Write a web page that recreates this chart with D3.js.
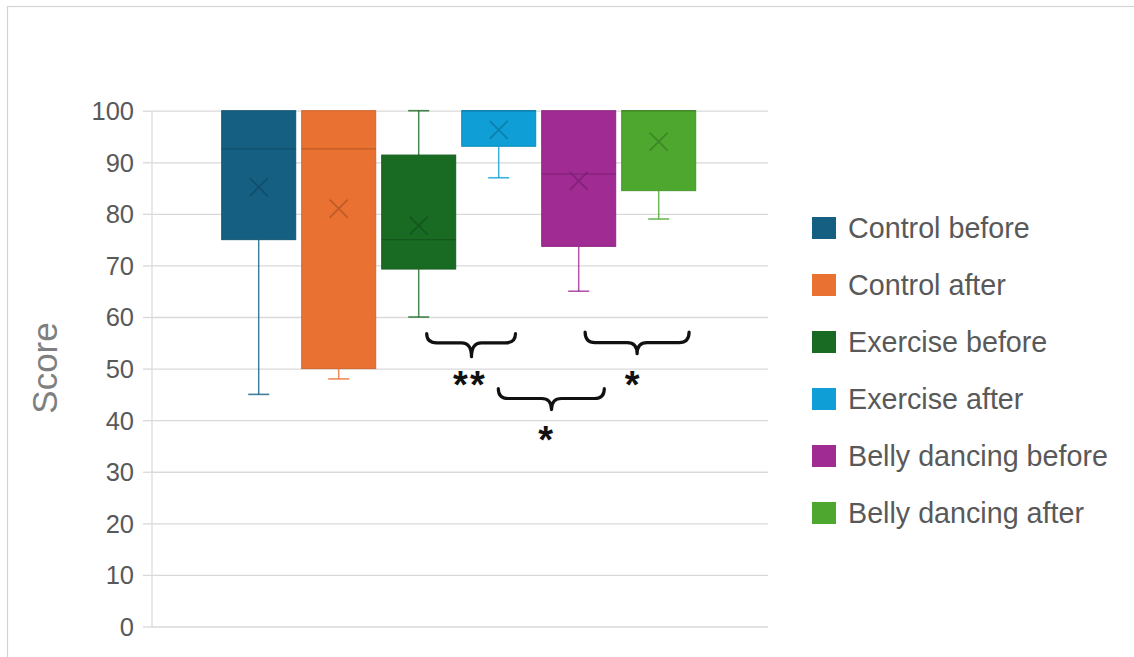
<!DOCTYPE html>
<html><head><meta charset="utf-8">
<script src="https://cdn.jsdelivr.net/npm/d3@7"></script>
<style>body{margin:0;background:#fff;}svg{display:block;font-family:"Liberation Sans",Arial,sans-serif;}</style>
</head><body><svg id="c" width="1134" height="657"></svg>
<script>
// ---- data ----
const seriesNames = ["Control before","Control after","Exercise before","Exercise after","Belly dancing before","Belly dancing after"];
const seriesColors = ["#156082","#E97132","#196B24","#0F9ED5","#A02B93","#4EA72E"];
const minVals    = [45, 48, 60, 87, 65, 79];
const q1Vals     = [75, 50, 69.3, 93.1, 73.7, 84.5];
const medianVals = [92.6, 92.6, 75, 100, 87.7, 100];
const q3Vals     = [100, 100, 91.4, 100, 100, 100];
const maxVals    = [100, 100, 100, 100, 100, 100];
const meanVals   = [85.2, 81, 77.7, 96.3, 86.4, 94];
const yTicks = [0,10,20,30,40,50,60,70,80,90,100];
const yLabel = "Score";
// significance braces (x in series index units, y in score units)
const braceFrom  = [2.1, 4.08, 2.995];
const braceTo    = [3.21, 5.38, 4.32];
const braceTip   = [2.66, 4.73, 3.66];
const braceTop   = [56.8, 57.1, 46.1];
const braceLine  = [55.0, 55.05, 44.2];
const braceTipY  = [52.3, 52.9, 42.05];
const braceLabel = ["**", "*", "*"];
const braceLabelX = [2.64, 4.68, 3.6];
const braceLabelY = [47.9, 47.9, 37.4];

// ---- drawing ----
const svg = d3.select("#c");
svg.append("rect").attr("x",7.5).attr("y",6.5).attr("width",1140).attr("height",660)
  .attr("fill","#fff").attr("stroke","#d4d4d4").attr("stroke-width",1.2);

const y = d3.scaleLinear().domain([0,100]).range([626.5,110.7]);
const x = d3.scaleBand().domain(seriesNames).range([218.7,698.7]).paddingInner(0.075).paddingOuter(0.0375);
const xi = d3.scaleLinear().domain([0,5])
  .range([x(seriesNames[0])+x.bandwidth()/2, x(seriesNames[5])+x.bandwidth()/2]);

// gridlines via axis
const gAxis = svg.append("g").attr("transform","translate(152,0)")
  .call(d3.axisLeft(y).tickValues(yTicks).tickSize(9).tickPadding(9).tickFormat(d3.format("d")));
gAxis.select(".domain").attr("stroke","#d9d9d9").attr("stroke-width",1.2).attr("d",`M0,${y(100)}V${y(0)}`);
gAxis.selectAll(".tick line").attr("stroke","#d9d9d9").attr("stroke-width",1.3).attr("x2",-9);
gAxis.selectAll(".tick").append("line").attr("x1",0).attr("x2",768-152).attr("stroke","#d9d9d9").attr("stroke-width",1.3);
gAxis.selectAll(".tick text").attr("fill","#595959").attr("font-size",25.5)
  .attr("font-family","'Liberation Sans',Arial,sans-serif").attr("dy","0.35em");

svg.append("text").attr("transform",`translate(57,${368}) rotate(-90)`)
  .attr("text-anchor","middle").attr("font-size",35).attr("fill","#7f7f7f").text(yLabel);

// boxes
const capW = 21;
seriesNames.forEach((name,i)=>{
  const c = seriesColors[i];
  const dark = d3.color(c).darker(0.8).formatHex();
  const g = svg.append("g");
  const x0 = x(name), w = x.bandwidth(), cx = x0 + w/2;
  if (minVals[i] < q1Vals[i]) {
    g.append("line").attr("x1",cx).attr("x2",cx).attr("y1",y(q1Vals[i])).attr("y2",y(minVals[i]))
      .attr("stroke",c).attr("stroke-width",1.5).attr("opacity",0.8);
    g.append("line").attr("x1",cx-capW/2).attr("x2",cx+capW/2).attr("y1",y(minVals[i])).attr("y2",y(minVals[i]))
      .attr("stroke",c).attr("stroke-width",1.6).attr("opacity",0.8);
  }
  if (maxVals[i] > q3Vals[i]) {
    g.append("line").attr("x1",cx).attr("x2",cx).attr("y1",y(q3Vals[i])).attr("y2",y(maxVals[i]))
      .attr("stroke",c).attr("stroke-width",1.5).attr("opacity",0.8);
    g.append("line").attr("x1",cx-capW/2).attr("x2",cx+capW/2).attr("y1",y(maxVals[i])).attr("y2",y(maxVals[i]))
      .attr("stroke",c).attr("stroke-width",1.6).attr("opacity",0.8);
  }
  g.append("rect").attr("x",x0).attr("width",w).attr("y",y(q3Vals[i])).attr("height",y(q1Vals[i])-y(q3Vals[i]))
    .attr("fill",c).attr("stroke",d3.color(c).darker(0.3)).attr("stroke-width",1);
  g.append("line").attr("x1",x0).attr("x2",x0+w).attr("y1",y(medianVals[i])).attr("y2",y(medianVals[i]))
    .attr("stroke",dark).attr("stroke-width",1.4).attr("opacity",0.7);
  const my = y(meanVals[i]), s = 9;
  g.append("path").attr("d",`M${cx-s},${my-s}L${cx+s},${my+s}M${cx+s},${my-s}L${cx-s},${my+s}`)
    .attr("stroke",dark).attr("stroke-width",1.8).attr("opacity",0.75).attr("fill","none");
});

// braces
braceFrom.forEach((_,k)=>{
  const xa = xi(braceFrom[k]), xb = xi(braceTo[k]), xt = xi(braceTip[k]);
  const yt = y(braceTop[k]), yl = y(braceLine[k]), yp = y(braceTipY[k]);
  const r = 10;
  const d = `M${xa},${yt}Q${xa},${yl} ${xa+r},${yl}L${xt-r},${yl}Q${xt},${yl} ${xt},${yp}`+
            `Q${xt},${yl} ${xt+r},${yl}L${xb-r},${yl}Q${xb},${yl} ${xb},${yt}`;
  svg.append("path").attr("d",d).attr("fill","none").attr("stroke","#111").attr("stroke-width",3.2)
    .attr("stroke-linecap","round").attr("stroke-linejoin","round");
  svg.append("text").attr("x",xi(braceLabelX[k])).attr("y",y(braceLabelY[k])+19)
    .attr("text-anchor","middle").attr("font-size",38).attr("font-weight","bold").attr("fill","#111")
    .attr("letter-spacing",2).text(braceLabel[k]);
});

// legend
const leg = svg.append("g");
seriesNames.forEach((name,i)=>{
  const cy = 228 + i*57;
  leg.append("rect").attr("x",812).attr("y",cy-11).attr("width",24).attr("height",22).attr("fill",seriesColors[i]);
  leg.append("text").attr("x",848).attr("y",cy).attr("dy","0.35em").attr("font-size",28.7)
    .attr("fill","#595959").text(name);
});
</script></body></html>
